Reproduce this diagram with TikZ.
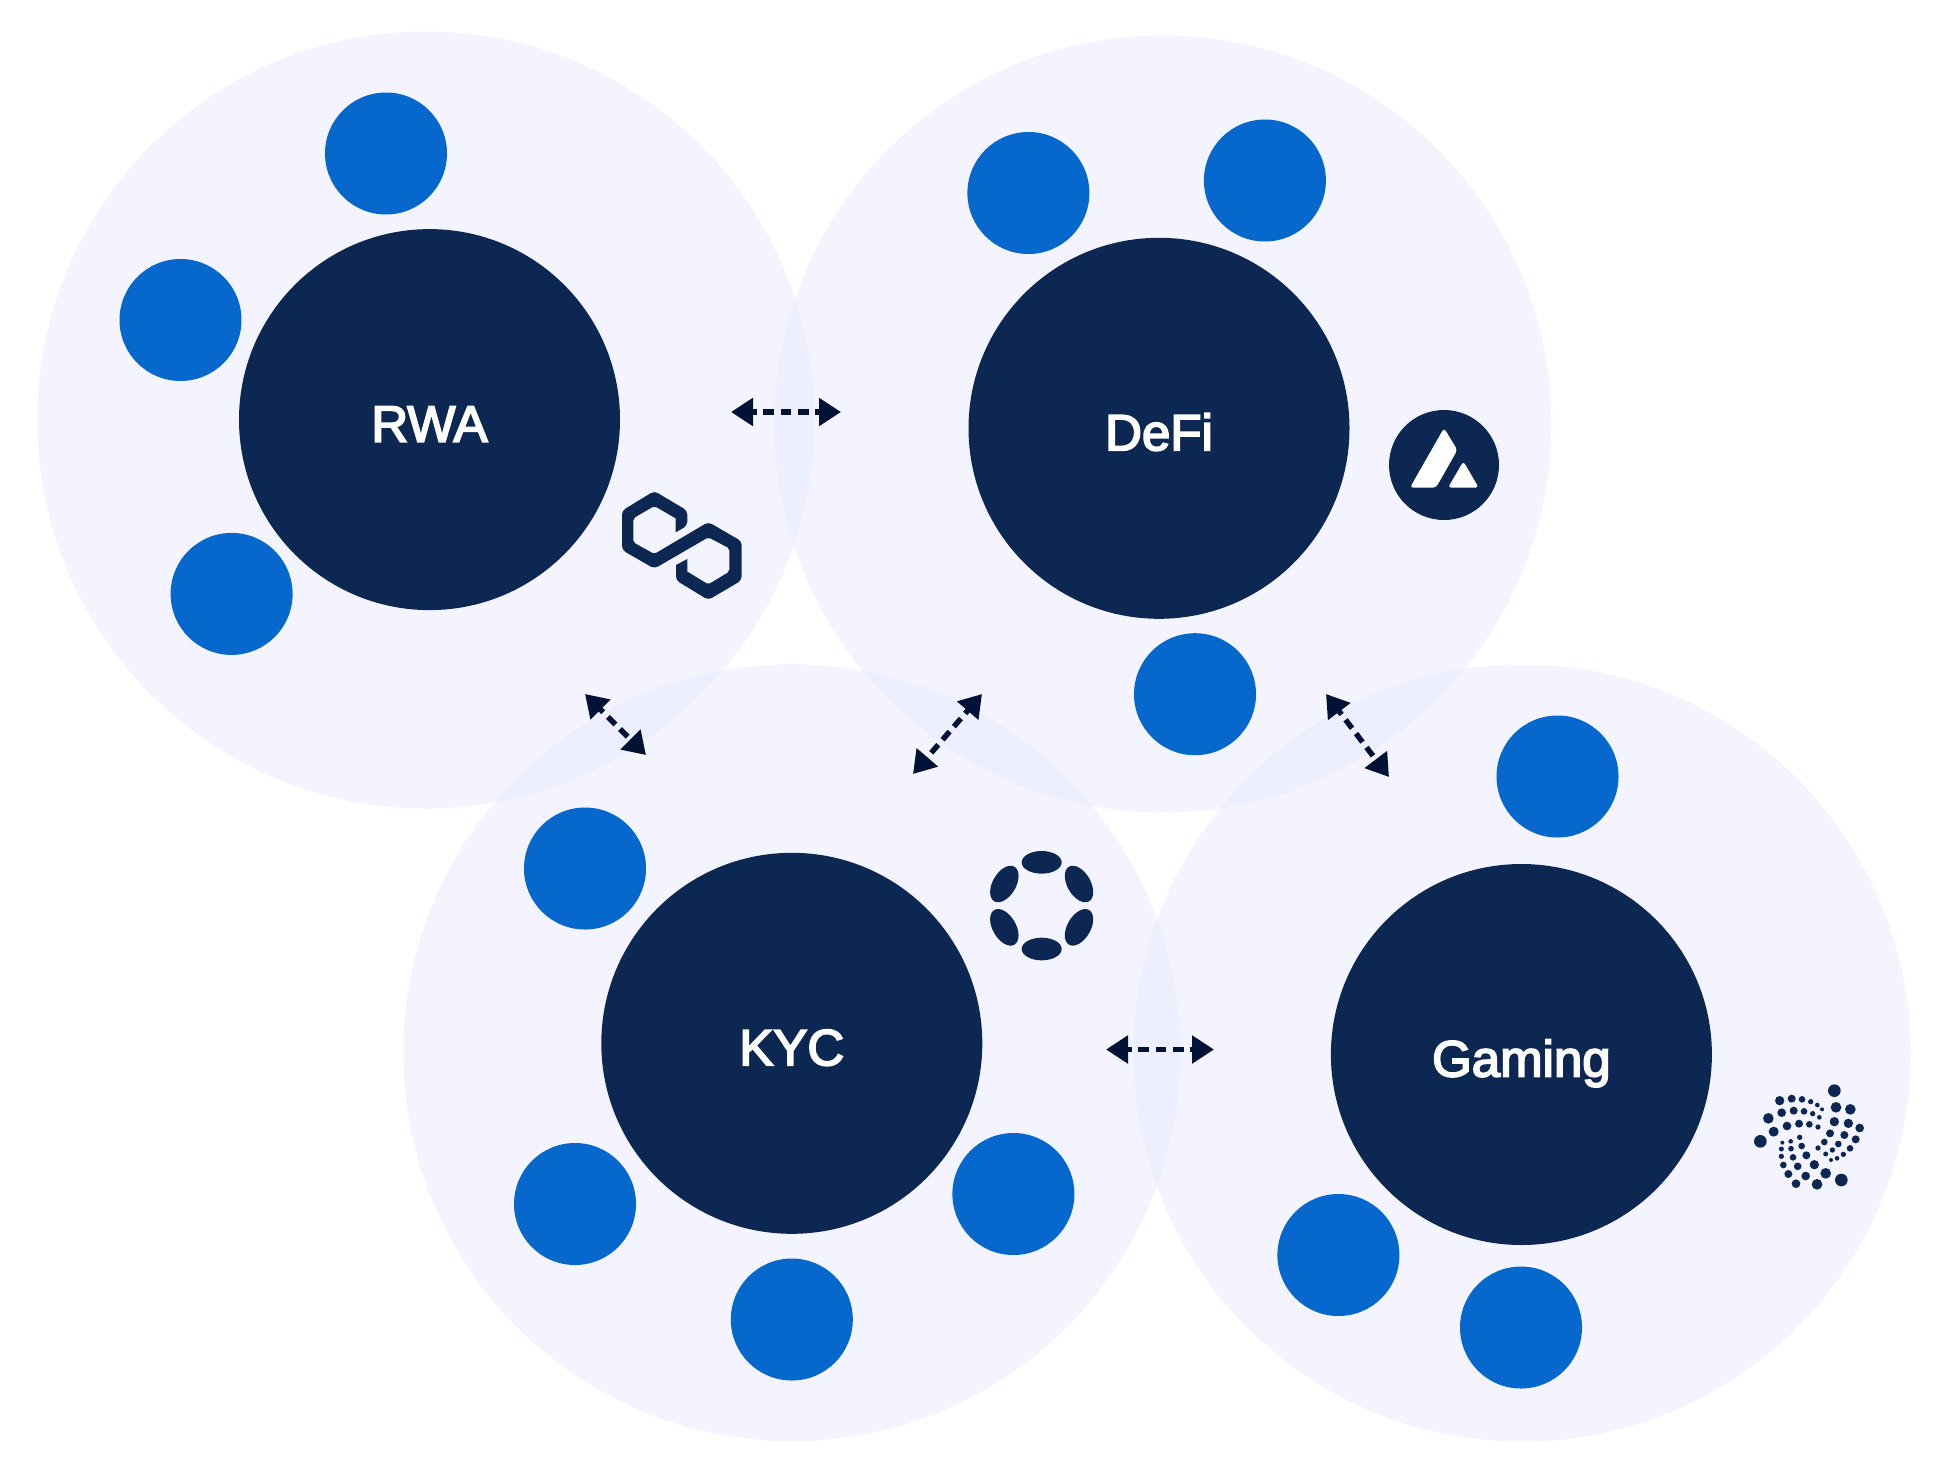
\documentclass[tikz,border=0pt]{standalone}
\usepackage{fontspec}
\setmainfont{Liberation Sans}[FakeBold=3.5]
\usetikzlibrary{arrows.meta}
\definecolor{halo}{RGB}{233,235,255}
\definecolor{hub}{HTML}{0D2753}
\definecolor{sat}{HTML}{0668CC}
\definecolor{link}{HTML}{011237}
\tikzset{
  halonode/.style={circle,fill=halo,fill opacity=.5,draw=none,inner sep=0pt,minimum size=777*.5bp},
  hubnode/.style={circle,fill=hub,draw=none,inner sep=0pt,minimum size=381*.5bp,text=white,
    font=\fontsize{25.5bp}{30bp}\selectfont,text height=22bp,text depth=0pt},
  satnode/.style={circle,fill=sat,draw=none,inner sep=0pt,minimum size=122*.5bp},
  linkline/.style={draw=link,line width=2.7bp,dash pattern=on 5.35bp off 3.3bp,dash phase=2.8bp,
    {Triangle[length=11bp,width=13.5bp]}-{Triangle[length=11bp,width=13.5bp]}},
  logo/.style={fill=hub,draw=none}
}
\begin{document}
\begin{tikzpicture}[x=.5bp,y=-.5bp]
\useasboundingbox (0,0) rectangle (1952,1480);
\fill[white] (0,0) rectangle (1952,1480);
% halos
\node[halonode] (haloRWA) at (425.8,420) {};
\node[halonode] (haloDeFi) at (1162.9,424) {};
\node[halonode] (haloKYC) at (791.8,1052.6) {};
\node[halonode] (haloGaming) at (1522,1053) {};
% hubs
\node[hubnode] (hubRWA) at (429.5,419.6) {RWA};
\node[hubnode] (hubDeFi) at (1159,428.3) {DeFi};
\node[hubnode] (hubKYC) at (791.8,1043.3) {KYC};
\node[hubnode] (hubGaming) at (1521.4,1054.5) {Gaming};
% satellites
\node[satnode] (a1) at (386,153.5) {};
\node[satnode] (a2) at (180.5,320) {};
\node[satnode] (a3) at (231.6,593.9) {};
\node[satnode] (b1) at (1028.4,193) {};
\node[satnode] (b2) at (1264.9,180.5) {};
\node[satnode] (b3) at (1195,694.2) {};
\node[satnode] (c1) at (585,868.5) {};
\node[satnode] (c2) at (575,1204) {};
\node[satnode] (c3) at (791.8,1319.5) {};
\node[satnode] (c4) at (1013.4,1194) {};
\node[satnode] (d1) at (1557.5,776.5) {};
\node[satnode] (d2) at (1338.4,1255) {};
\node[satnode] (d3) at (1521,1327.5) {};
% connectors
\coordinate (p1a) at (731,412); \coordinate (p1b) at (841,412);
\coordinate (p2a) at (585,694); \coordinate (p2b) at (646,755);
\coordinate (p3a) at (982,694); \coordinate (p3b) at (913,774);
\coordinate (p4a) at (1326,694); \coordinate (p4b) at (1389,777);
\coordinate (p5a) at (1106,1049.5); \coordinate (p5b) at (1214,1049.5);
\draw[linkline] (p1a) -- (p1b);
\draw[linkline] (p2a) -- (p2b);
\draw[linkline] (p3a) -- (p3b);
\draw[linkline] (p4a) -- (p4b);
\draw[linkline] (p5a) -- (p5b);
% Polygon logo
\begin{scope}[shift={(600,380)},x=.5bp/3,y=-.5bp/3]
\fill[logo,rounded corners=2bp]
 (163,333) -- (262,392) -- (262,437)[sharp corners] -- (227,457) -- (227,415)[rounded corners=1bp] -- (163,378)
 -- (100,415) -- (100,487) -- (163,522)[rounded corners=2bp] -- (325,426) -- (425,484) -- (425,601) -- (325,660)
 -- (228,601) [sharp corners]-- (228,555) -- (262,537) -- (262,575)[rounded corners=1bp] -- (325,613) -- (388,575)
 -- (388,505) -- (325,472)[rounded corners=2bp] -- (163,566) -- (66,510) -- (66,392) -- cycle;
\end{scope}
% Avalanche logo
\node[circle,fill=hub,inner sep=0pt,minimum size=110*.5bp] (avax) at (1444,465) {};
\begin{scope}[shift={(1370,390)},x=.5bp/3,y=-.5bp/3]
\fill[white,rounded corners=1.6bp] (222,114) -- (262,180) -- (198,293) -- (120,293) -- cycle;
\fill[white,rounded corners=1.6bp] (280,214) -- (326,293) -- (234,293) -- cycle;
\end{scope}
% Polkadot logo
\begin{scope}[shift={(970,830)},x=.5bp/3,y=-.5bp/3]
\fill[logo] (215,97) ellipse (60 and 34);
\fill[logo] (215,357) ellipse (60 and 34);
\fill[logo,rotate around={60:(103,162)}] (103,162) ellipse (60 and 35);
\fill[logo,rotate around={-60:(327,162)}] (327,162) ellipse (60 and 35);
\fill[logo,rotate around={-60:(103,292)}] (103,292) ellipse (60 and 35);
\fill[logo,rotate around={60:(327,292)}] (327,292) ellipse (60 and 35);
\end{scope}
% IOTA logo
\begin{scope}[shift={(1740,1070)},x=.5bp/3,y=-.5bp/3]
\foreach \dx/\dy/\dr in {283/62/19,288/112/16,331/118/16,283/155/14,325/160/14,359/174/13,270/190/12,313/195/12,347/208/12,253/216/10,295/222/10,330/235/10,234/234/8,277/240/8,310/253/8,257/252/7.5,291/265/7,273/270/6,
119/92/14,155/86/12,186/88/10,212/95/8,232/105/7,246/118/6,
125/128/13,161/122/12,192/124/10,218/131/8,238/142/7,
85/145/16,141/168/13,177/161/12,208/163/10,234/171/8,
101/185/15,61/214/19,
179/202/8,152/214/7,127/218/6,185/228/10,153/236/8.5,124/237/7.5,199/256/12,159/262/10,124/259/8,223/284/14,173/289/11.5,130/285/10,257/310/16,197/318/13,145/312/12,304/330/19,231/343/16,168/341/13}
  \fill[logo] (\dx,\dy) circle (\dr);
\end{scope}
\end{tikzpicture}
\end{document}
